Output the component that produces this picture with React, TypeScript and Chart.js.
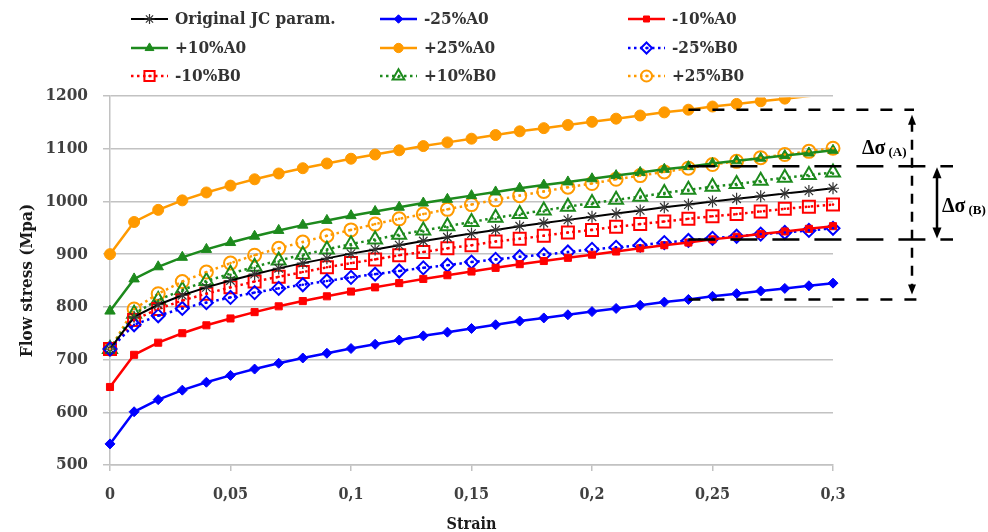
import React, { useEffect, useRef } from 'react';
import { Chart, registerables } from 'chart.js';

Chart.register(...registerables);

// ---------------- data ----------------
const strain = [0, 0.01, 0.02, 0.03, 0.04, 0.05, 0.06, 0.07, 0.08, 0.09, 0.1, 0.11, 0.12, 0.13, 0.14, 0.15, 0.16, 0.17, 0.18, 0.19, 0.2, 0.21, 0.22, 0.23, 0.24, 0.25, 0.26, 0.27, 0.28, 0.29, 0.3];

const originalJC = [720, 781, 804, 822, 837, 850, 862, 873, 883, 892, 901, 909, 917, 925, 932, 939, 946, 953, 959, 965, 971, 977, 983, 989, 994, 1000, 1005, 1010, 1015, 1020, 1025];
const minus25A0 = [540, 601, 624, 642, 657, 670, 682, 693, 703, 712, 721, 729, 737, 745, 752, 759, 766, 773, 779, 785, 791, 797, 803, 809, 814, 820, 825, 830, 835, 840, 845];
const minus10A0 = [648, 709, 732, 750, 765, 778, 790, 801, 811, 820, 829, 837, 845, 853, 860, 867, 874, 881, 887, 893, 899, 905, 911, 917, 922, 928, 933, 938, 943, 948, 953];
const plus10A0 = [792, 853, 876, 894, 909, 922, 934, 945, 955, 964, 973, 981, 989, 997, 1004, 1011, 1018, 1025, 1031, 1037, 1043, 1049, 1055, 1061, 1066, 1072, 1077, 1082, 1087, 1092, 1097];
const plus25A0 = [900, 961, 984, 1002, 1017, 1030, 1042, 1053, 1063, 1072, 1081, 1089, 1097, 1105, 1112, 1119, 1126, 1133, 1139, 1145, 1151, 1157, 1163, 1169, 1174, 1180, 1185, 1190, 1195, 1200, 1205];
const minus25B0 = [720, 766, 783, 797, 808, 818, 827, 835, 842, 849, 856, 862, 868, 874, 879, 885, 890, 895, 899, 904, 909, 913, 917, 922, 926, 930, 934, 938, 941, 945, 949];
const minus10B0 = [720, 775, 796, 812, 825, 837, 848, 857, 866, 875, 883, 890, 898, 904, 911, 917, 924, 929, 935, 941, 946, 952, 957, 962, 967, 972, 976, 981, 986, 990, 994];
const plus10B0 = [720, 787, 813, 832, 849, 863, 876, 888, 899, 909, 919, 928, 937, 945, 953, 961, 969, 976, 983, 990, 997, 1003, 1009, 1016, 1022, 1028, 1033, 1039, 1045, 1050, 1055];
const plus25B0 = [720, 796, 825, 848, 866, 883, 898, 911, 923, 935, 946, 957, 967, 976, 985, 994, 1003, 1011, 1019, 1027, 1034, 1042, 1049, 1056, 1063, 1070, 1076, 1083, 1089, 1095, 1101];

const seriesLabels = ['Original JC param.', '-25%A0', '-10%A0', '+10%A0', '+25%A0', '-25%B0', '-10%B0', '+10%B0', '+25%B0'];
const seriesValues = [originalJC, minus25A0, minus10A0, plus10A0, plus25A0, minus25B0, minus10B0, plus10B0, plus25B0];

const xTitle = 'Strain';
const yTitle = 'Flow stress (Mpa)';
const deltaLabelA = ['Δσ', '(A)'];
const deltaLabelB = ['Δσ', '(B)'];
const deltaStrain = 0.24;

// ---------------- styles ----------------
type Sty = { color: string; marker: string; filled: boolean; radius: number; dotted: boolean; lineWidth: number; markerColor?: string };
const GREEN = '#1d8a1d';
const ORANGE = '#ff9a00';
const styles: Sty[] = [
  { color: '#000000', marker: 'star', filled: false, radius: 6, dotted: false, lineWidth: 2, markerColor: '#333333' },
  { color: '#0000ff', marker: 'rectRot', filled: true, radius: 5, dotted: false, lineWidth: 2.5 },
  { color: '#ff0000', marker: 'rect', filled: true, radius: 5, dotted: false, lineWidth: 2.5 },
  { color: GREEN, marker: 'triangle', filled: true, radius: 6, dotted: false, lineWidth: 2.5 },
  { color: ORANGE, marker: 'circle', filled: true, radius: 5.5, dotted: false, lineWidth: 2.5 },
  { color: '#0000ff', marker: 'rectRot', filled: false, radius: 6.5, dotted: true, lineWidth: 2.5 },
  { color: '#ff0000', marker: 'rect', filled: false, radius: 8.5, dotted: true, lineWidth: 2.5 },
  { color: GREEN, marker: 'triangle', filled: false, radius: 8, dotted: true, lineWidth: 2.5 },
  { color: ORANGE, marker: 'circle', filled: false, radius: 6.5, dotted: true, lineWidth: 2.5 },
];

const FONT = '"DejaVu Serif Condensed", "DejaVu Serif", serif';
const GRID = '#c2c2c2';
const TICK_COLOR = '#404040';
const DOT_DASH = [2.5, 3.5];

function drawMarker(ctx: CanvasRenderingContext2D, st: Sty, x: number, y: number, r: number) {
  ctx.save();
  ctx.setLineDash([]);
  ctx.beginPath();
  switch (st.marker) {
    case 'circle':
      ctx.arc(x, y, r, 0, Math.PI * 2);
      ctx.closePath();
      break;
    case 'rect': {
      const s = r * Math.SQRT1_2;
      ctx.rect(x - s, y - s, 2 * s, 2 * s);
      break;
    }
    case 'rectRot':
      ctx.moveTo(x, y - r);
      ctx.lineTo(x + r, y);
      ctx.lineTo(x, y + r);
      ctx.lineTo(x - r, y);
      ctx.closePath();
      break;
    case 'triangle':
      ctx.moveTo(x, y - r);
      ctx.lineTo(x + r * 0.866, y + r * 0.5);
      ctx.lineTo(x - r * 0.866, y + r * 0.5);
      ctx.closePath();
      break;
    case 'star':
      for (let k = 0; k < 4; k++) {
        const a = (k * Math.PI) / 4;
        ctx.moveTo(x - Math.cos(a) * r, y - Math.sin(a) * r);
        ctx.lineTo(x + Math.cos(a) * r, y + Math.sin(a) * r);
      }
      break;
  }
  if (st.filled) {
    ctx.fillStyle = st.color;
    ctx.fill();
  }
  ctx.strokeStyle = st.markerColor || st.color;
  ctx.lineWidth = st.filled ? 1 : st.marker === 'star' ? 1.2 : 2;
  ctx.stroke();
  if (!st.filled && st.marker !== 'star') {
    ctx.beginPath();
    ctx.arc(x, y + (st.marker === 'triangle' ? r * 0.15 : 0), 1.3, 0, Math.PI * 2);
    ctx.fillStyle = st.color;
    ctx.fill();
  }
  ctx.restore();
}

const hollowDotPlugin = {
  id: 'hollowDots',
  afterDatasetsDraw(chart: any) {
    const ctx: CanvasRenderingContext2D = chart.ctx;
    const area = chart.chartArea;
    ctx.save();
    chart.data.datasets.forEach((_: any, i: number) => {
      const st = styles[i];
      if (st.filled || st.marker === 'star') return;
      const meta = chart.getDatasetMeta(i);
      ctx.fillStyle = st.color;
      meta.data.forEach((pt: any) => {
        if (pt.y < area.top || pt.y > area.bottom) return;
        ctx.beginPath();
        ctx.arc(pt.x, pt.y + (st.marker === 'triangle' ? st.radius * 0.15 : 0), 1.3, 0, Math.PI * 2);
        ctx.fill();
      });
    });
    ctx.restore();
  },
};

const legendPlugin = {
  id: 'gridLegend',
  afterDraw(chart: any) {
    const ctx: CanvasRenderingContext2D = chart.ctx;
    const colX = [131, 380, 628];
    const rowY = [19, 48, 76];
    const lineLen = 37;
    ctx.save();
    seriesLabels.forEach((label, i) => {
      const st = styles[i];
      const x = colX[i % 3];
      const y = rowY[Math.floor(i / 3)];
      ctx.beginPath();
      ctx.strokeStyle = st.color;
      ctx.lineWidth = st.lineWidth;
      ctx.setLineDash(st.dotted ? DOT_DASH : []);
      ctx.moveTo(x, y);
      ctx.lineTo(x + lineLen, y);
      ctx.stroke();
      drawMarker(ctx, st, x + lineLen / 2, y, st.radius * 0.85);
      ctx.setLineDash([]);
      ctx.fillStyle = '#333333';
      ctx.font = `bold 17px ${FONT}`;
      ctx.textBaseline = 'middle';
      ctx.textAlign = 'left';
      ctx.fillText(label, x + lineLen + 7, y + 1);
    });
    ctx.restore();
  },
};

function arrowHead(ctx: CanvasRenderingContext2D, x: number, tipY: number, dir: number, w: number, h: number) {
  ctx.beginPath();
  ctx.moveTo(x, tipY);
  ctx.lineTo(x - w / 2, tipY + dir * h);
  ctx.lineTo(x + w / 2, tipY + dir * h);
  ctx.closePath();
  ctx.fill();
}

const deltaPlugin = {
  id: 'deltaSigma',
  afterDraw(chart: any) {
    const { ctx, chartArea, scales } = chart;
    const xs = scales.x;
    const ys = scales.y;
    const idx = strain.indexOf(deltaStrain);
    const x0 = xs.getPixelForValue(deltaStrain);
    const yA1 = ys.getPixelForValue(plus25A0[idx]);
    const yA2 = ys.getPixelForValue(minus25A0[idx]);
    const yB1 = ys.getPixelForValue(plus25B0[idx]) - 2;
    const yB2 = ys.getPixelForValue(minus25B0[idx]) - 1;
    const R = chartArea.right;
    const xVA = R + 79;
    const xVB = R + 104;
    ctx.save();
    ctx.strokeStyle = '#000';
    ctx.fillStyle = '#000';
    ctx.lineWidth = 2.5;
    const hline = (xa: number, xb: number, y: number) => {
      ctx.beginPath();
      ctx.moveTo(xa, y);
      ctx.lineTo(xb, y);
      ctx.stroke();
    };
    // A horizontal lines (short dashes)
    ctx.setLineDash([12, 12]);
    hline(x0, R + 81, yA1);
    hline(x0, R + 84, yA2);
    // B horizontal lines (long dashes)
    ctx.setLineDash([27, 15]);
    hline(x0, R + 120, yB1);
    hline(x0, R + 120, yB2);
    // vertical A (dashed) with arrows
    ctx.setLineDash([10, 8]);
    ctx.beginPath();
    ctx.moveTo(xVA, yA1 + 12);
    ctx.lineTo(xVA, yA2 - 12);
    ctx.stroke();
    ctx.setLineDash([]);
    arrowHead(ctx, xVA, yA1 + 5, 1, 8, 10);
    arrowHead(ctx, xVA, yA2 - 5, -1, 8, 10);
    // vertical B (solid) with arrows
    ctx.beginPath();
    ctx.moveTo(xVB, yB1 + 8);
    ctx.lineTo(xVB, yB2 - 8);
    ctx.stroke();
    arrowHead(ctx, xVB, yB1 + 1, 1, 9, 11);
    arrowHead(ctx, xVB, yB2 - 1, -1, 9, 11);
    // labels
    ctx.textBaseline = 'alphabetic';
    ctx.textAlign = 'left';
    const big = 'bold 20px "Liberation Serif", serif';
    const small = 'bold 13px "Liberation Serif", serif';
    const drawLabel = (parts: string[], x: number, y: number) => {
      ctx.font = big;
      ctx.fillText(parts[0], x, y);
      const w = ctx.measureText(parts[0]).width;
      ctx.font = small;
      ctx.fillText(parts[1], x + w + 3, y + 2);
    };
    drawLabel(deltaLabelA, R + 29, yB1 - 12);
    drawLabel(deltaLabelB, R + 109, (yB1 + yB2) / 2 + 9);
    ctx.restore();
  },
};

export default function App() {
  const canvasRef = useRef<HTMLCanvasElement | null>(null);

  useEffect(() => {
    const canvas = canvasRef.current;
    if (!canvas) return;
    const datasets = seriesValues.map((vals, i) => {
      const st = styles[i];
      return {
        label: seriesLabels[i],
        data: strain.map((s, j) => ({ x: s, y: vals[j] })),
        borderColor: st.color,
        backgroundColor: st.color,
        borderWidth: st.lineWidth,
        borderDash: st.dotted ? DOT_DASH : [],
        pointStyle: st.marker,
        pointRadius: (c: any) => (c.raw && c.raw.y >= 1200 ? 0 : st.radius),
        pointHoverRadius: st.radius,
        pointBorderColor: st.markerColor || st.color,
        pointBackgroundColor: st.filled ? st.color : 'rgba(255,255,255,0)',
        pointBorderWidth: st.filled ? 1 : st.marker === 'star' ? 1.2 : 2,
        tension: 0,
        fill: false,
        clip: { left: 10, right: 10, top: -1.5, bottom: 10 },
      };
    });

    const chart = new Chart(canvas, {
      type: 'line',
      data: { datasets },
      options: {
        responsive: false,
        animation: false,
        layout: { padding: { top: 96, right: 155, left: 0, bottom: 0 } },
        plugins: { legend: { display: false }, tooltip: { enabled: false } },
        scales: {
          x: {
            type: 'linear',
            min: 0,
            max: 0.3,
            afterFit: (s: any) => {
              s.height = 67;
            },
            ticks: {
              stepSize: 0.05,
              color: TICK_COLOR,
              font: { family: FONT, size: 16, weight: 'bold' },
              padding: 14,
              callback: (v: any) => String(Math.round(Number(v) * 100) / 100).replace('.', ','),
            },
            grid: { drawOnChartArea: false, drawTicks: true, tickLength: 6, color: GRID, lineWidth: 1.5 },
            border: { color: GRID, width: 1.5 },
            title: {
              display: true,
              text: xTitle,
              color: '#1a1a1a',
              font: { family: FONT, size: 16, weight: 'bold', lineHeight: 1 },
              padding: { top: 0, bottom: -1 },
            },
          },
          y: {
            type: 'linear',
            min: 500,
            max: 1200,
            afterFit: (s: any) => {
              s.width = 110;
            },
            ticks: {
              stepSize: 100,
              color: TICK_COLOR,
              font: { family: FONT, size: 17, weight: 'bold' },
              padding: 15,
              callback: (v: any) => String(v),
            },
            grid: { color: GRID, lineWidth: 1.5, tickLength: 7 },
            border: { color: GRID, width: 1.5 },
            title: {
              display: true,
              text: yTitle,
              color: '#1a1a1a',
              font: { family: FONT, size: 17, weight: 'bold' },
              padding: { top: 17, bottom: 0 },
            },
          },
        },
      },
      plugins: [hollowDotPlugin, legendPlugin, deltaPlugin],
    } as any);

    return () => chart.destroy();
  }, []);

  return (
    <div style={{ position: 'fixed', left: 0, top: 0, width: 988, height: 532, background: '#ffffff' }}>
      <canvas ref={canvasRef} width={988} height={532} style={{ width: 988, height: 532, display: 'block' }} />
    </div>
  );
}
